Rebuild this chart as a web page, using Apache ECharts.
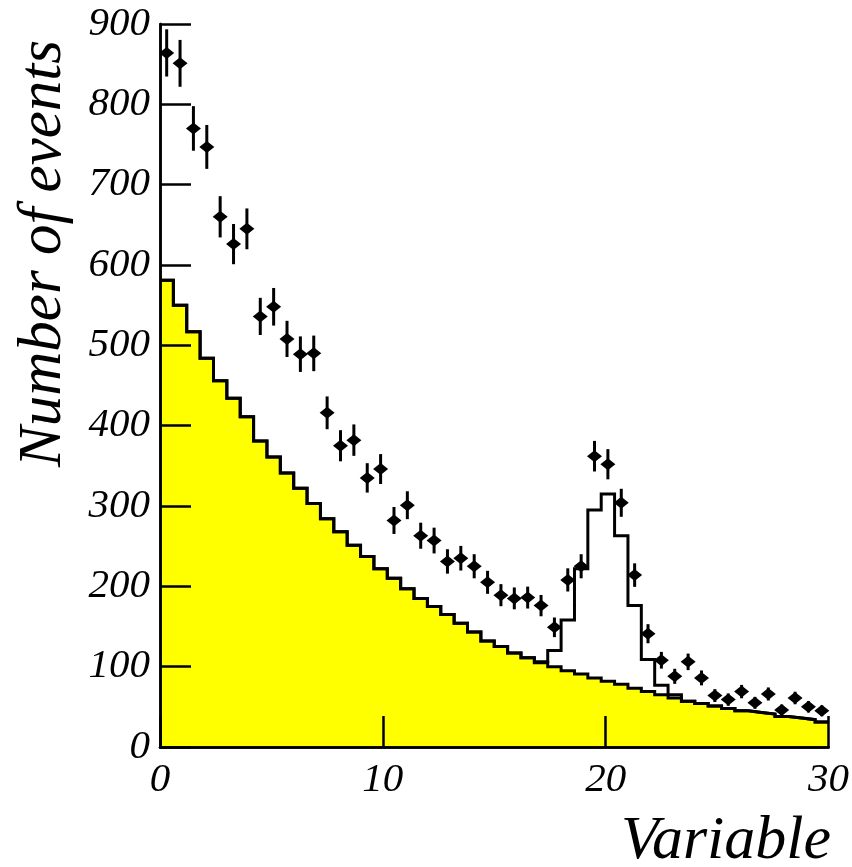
<!DOCTYPE html>
<html>
<head>
<meta charset="utf-8">
<script src="https://cdn.jsdelivr.net/npm/echarts@6/dist/echarts.min.js"></script>
<style>
  html, body { margin: 0; padding: 0; background: #fff; }
  #chart { width: 852px; height: 867px; }
</style>
</head>
<body>
<div id="chart"></div>
<script>
// Histogram binning: 50 bins over [0, 30]
const binLow = 0;
const binHigh = 30;
const nBins = 50;

// Axis ticks
const xTickStep = 10;
const yMax = 900;
const yTickStep = 100;

// Background-only expectation (yellow filled histogram)
const backgroundCounts = [
  581, 550, 517, 484, 456, 434, 411, 381, 361, 341,
  322, 303, 284, 268, 251, 237, 222, 210, 197, 185,
  175, 165, 154, 143, 132, 125, 117, 111, 105, 100,
  95, 91, 86, 82, 78, 73, 69, 65, 61, 57,
  54, 51, 48, 45, 43, 41, 38, 36, 34, 31
];

// Signal + background expectation (open histogram)
const modelCounts = [
  581, 550, 517, 484, 456, 434, 411, 381, 361, 341,
  322, 303, 284, 268, 251, 237, 222, 210, 197, 185,
  175, 165, 154, 143, 132, 125, 117, 111, 106, 120,
  158, 222, 295, 315, 263, 176, 109, 77, 65, 57,
  54, 51, 48, 45, 43, 41, 38, 36, 34, 31
];

// Observed events per bin
const dataCounts = [
  864, 851, 770, 747, 660, 626, 645, 536, 548, 508,
  489, 490, 416, 375, 382, 335, 346, 282, 301, 263,
  257, 231, 235, 225, 205, 189, 185, 186, 176, 149,
  208, 225, 362, 352, 304, 214, 141, 108, 88, 106,
  86, 64, 59, 69, 55, 66, 46, 61, 50, 45
];

const binWidth = (binHigh - binLow) / nBins;

// Step outline: one point per lower bin edge, plus the closing upper edge
function stepPoints(counts) {
  const pts = counts.map((c, i) => [binLow + i * binWidth, c]);
  pts.push([binHigh, counts[counts.length - 1]]);
  return pts;
}

// Points at bin centres with Poisson errors
const dataPoints = dataCounts.map((c, i) => [binLow + (i + 0.5) * binWidth, c, Math.sqrt(c)]);

const serif = "'Liberation Serif', 'Times New Roman', serif";
const labelStyle = {
  fontFamily: serif,
  fontStyle: 'italic',
  fontSize: 41,
  color: '#000'
};

const chart = echarts.init(document.getElementById('chart'), null, { renderer: 'canvas' });

chart.setOption({
  animation: false,
  backgroundColor: '#fff',
  grid: { left: 160, right: 21, top: 24, bottom: 120, containLabel: false },
  xAxis: [
    {
      type: 'value', min: binLow, max: binHigh, interval: xTickStep,
      z: 10,
      axisLine: { show: true, lineStyle: { color: '#000', width: 2.5 } },
      axisTick: { show: true, inside: true, length: 31, lineStyle: { color: '#000', width: 2.5 } },
      axisLabel: Object.assign({ margin: 13 }, labelStyle),
      splitLine: { show: false }
    },
    {
      type: 'value', position: 'top', min: binLow, max: binHigh,
      z: 10,
      axisLine: { show: true, lineStyle: { color: '#000', width: 2.5 } },
      axisTick: { show: false }, axisLabel: { show: false }, splitLine: { show: false }
    }
  ],
  yAxis: [
    {
      type: 'value', min: 0, max: yMax, interval: yTickStep,
      z: 10,
      axisLine: { show: true, lineStyle: { color: '#000', width: 2.5 } },
      axisTick: { show: true, inside: true, length: 31, lineStyle: { color: '#000', width: 2.5 } },
      axisLabel: Object.assign({ margin: 10 }, labelStyle),
      splitLine: { show: false }
    },
    {
      type: 'value', position: 'right', min: 0, max: yMax,
      z: 10,
      axisLine: { show: true, lineStyle: { color: '#000', width: 2.5 } },
      axisTick: { show: false }, axisLabel: { show: false }, splitLine: { show: false }
    }
  ],
  graphic: [
    {
      type: 'text', x: 831, y: 842, z: 20,
      style: {
        text: 'Variable', fontFamily: serif, fontStyle: 'italic', fontSize: 62,
        fill: '#000', align: 'right', verticalAlign: 'middle'
      }
    },
    {
      type: 'text', x: 44, y: 40, rotation: Math.PI / 2, z: 20,
      style: {
        text: 'Number of events', fontFamily: serif, fontStyle: 'italic', fontSize: 61,
        fill: '#000', align: 'right', verticalAlign: 'middle'
      }
    }
  ],
  series: [
    {
      name: 'background',
      type: 'line',
      step: 'end',
      data: stepPoints(backgroundCounts),
      symbol: 'none',
      z: 2,
      lineStyle: { color: '#000', width: 3, join: 'miter' },
      areaStyle: { color: '#ffff00', opacity: 1 }
    },
    {
      name: 'signal+background',
      type: 'line',
      step: 'end',
      data: stepPoints(modelCounts),
      symbol: 'none',
      z: 3,
      lineStyle: { color: '#000', width: 3, join: 'miter' }
    },
    {
      name: 'data',
      type: 'custom',
      z: 4,
      data: dataPoints,
      encode: { x: 0, y: 1 },
      renderItem: function (params, api) {
        const x = api.value(0), y = api.value(1), e = api.value(2);
        const c = api.coord([x, y]);
        const top = api.coord([x, y + e]);
        const bot = api.coord([x, y - e]);
        return {
          type: 'group',
          children: [
            {
              type: 'line',
              shape: { x1: c[0], y1: top[1], x2: c[0], y2: bot[1] },
              style: { stroke: '#000', lineWidth: 3 }
            },
            {
              type: 'polygon',
              shape: { points: [[c[0] - 7.5, c[1]], [c[0], c[1] - 6], [c[0] + 7.5, c[1]], [c[0], c[1] + 6]] },
              style: { fill: '#000' }
            }
          ]
        };
      }
    }
  ]
});
</script>
</body>
</html>
